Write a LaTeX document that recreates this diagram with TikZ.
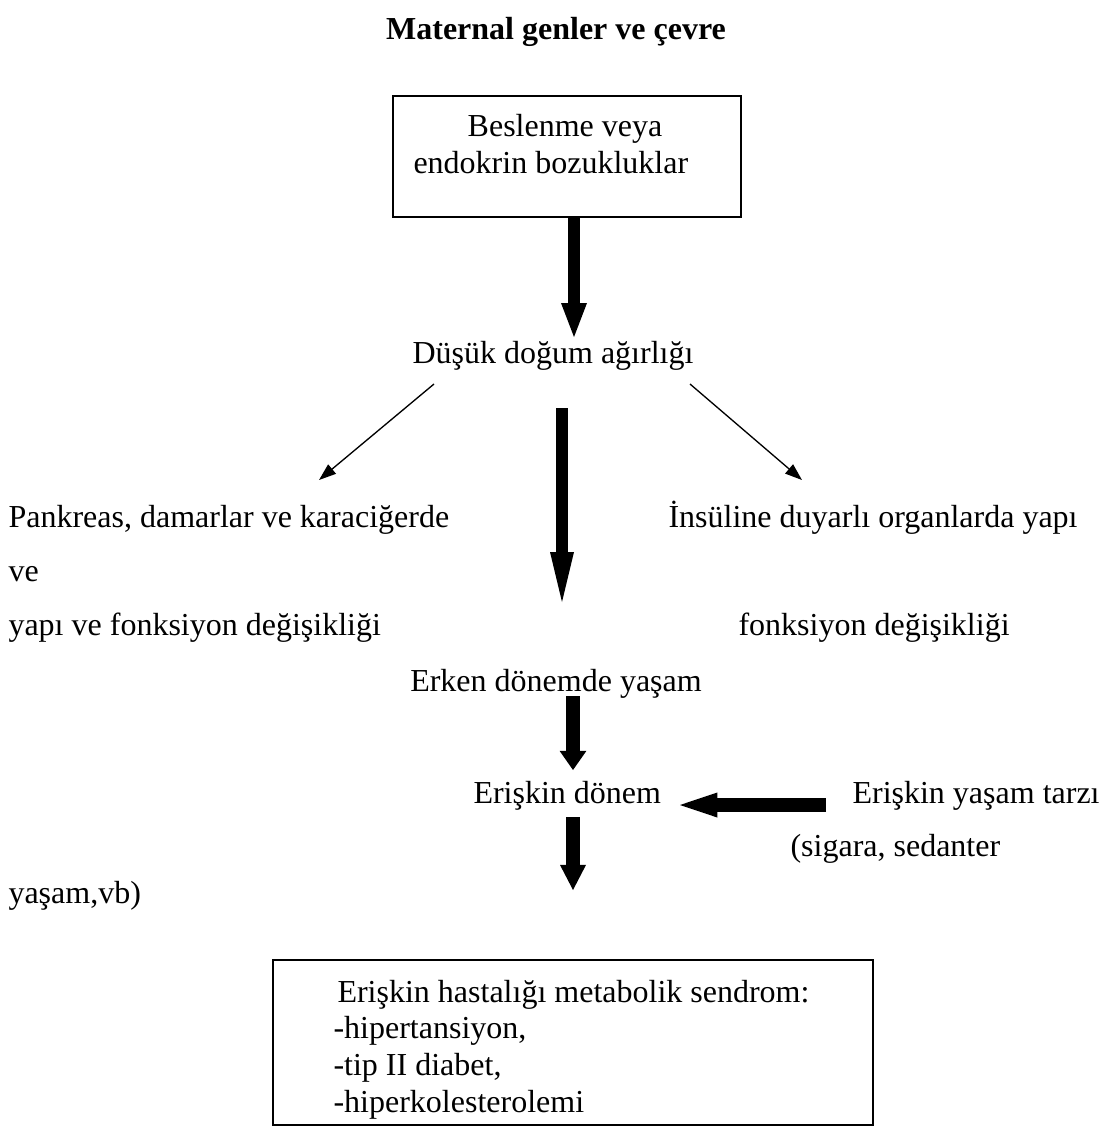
\documentclass[tikz,border=0pt]{standalone}
\usepackage{fontspec}
\setmainfont{Liberation Serif}
\usetikzlibrary{arrows.meta}
\begin{document}
\begin{tikzpicture}[x=0.375pt,y=-0.375pt,
  txt/.style={inner sep=0pt, font=\fontsize{12pt}{14pt}\selectfont},
  boxtxt/.style={txt, anchor=base west},
  frame/.style={draw, line width=0.7pt, inner sep=0pt},
  thinarr/.style={line width=0.5pt, -{Triangle[width=4.5pt, length=6.4pt]}},
  fatarr/.style n args={3}{line width=#1, -{Triangle[width=#2, length=#3, line width=0pt]}},
]
\useasboundingbox (0,0) rectangle (1109,1128);

% title
\node[txt, font=\fontsize{12pt}{14pt}\selectfont\bfseries, anchor=base] (title) at (556,39) {Maternal genler ve çevre};

% top box
\node[frame, minimum width={348.3*0.375pt}, minimum height={120.7*0.375pt}] (box1) at (566.85,156.35) {};
\node[txt, anchor=base] (t1a) at (565,136) {Beslenme veya};
\node[txt, anchor=base west] (t1b) at (413,173) {endokrin bozukluklar};

% texts
\node[txt, anchor=base] (dusuk) at (553,363) {Düşük doğum ağırlığı};
\node[txt, anchor=base west] (pank) at (8,527) {Pankreas, damarlar ve karaciğerde};
\node[txt, anchor=base west] (ve) at (8,581) {ve};
\node[txt, anchor=base west] (yapi) at (8,635) {yapı ve fonksiyon değişikliği};
\node[txt, anchor=base west] (ins) at (668,527) {İnsüline duyarlı organlarda yapı};
\node[txt, anchor=base west] (fonk) at (738,635) {fonksiyon değişikliği};
\node[txt, anchor=base] (erken) at (556,691) {Erken dönemde yaşam};
\node[txt, anchor=base west] (donem) at (473,803) {Erişkin dönem};
\node[txt, anchor=base west] (tarz) at (852,803) {Erişkin yaşam tarzı};
\node[txt, anchor=base west] (sig) at (790,856) {(sigara, sedanter};
\node[txt, anchor=base west] (vb) at (8,903) {yaşam,vb)};

% bottom box
\node[frame, minimum width={600*0.375pt}, minimum height={165*0.375pt}] (box2) at (573,1042.5) {};
\node[boxtxt] (d1) at (337,1002) {Erişkin hastalığı metabolik sendrom:};
\node[boxtxt] (d2) at (333,1038.8) {-hipertansiyon,};
\node[boxtxt] (d3) at (333,1075.6) {-tip II diabet,};
\node[boxtxt] (d4) at (333,1112.4) {-hiperkolesterolemi};

% connector end points
\coordinate (a1) at (574,337);
\coordinate (a2s) at (562,408);
\coordinate (a2e) at (562,602);
\coordinate (a3s) at (573,696);
\coordinate (a3e) at (573,770);
\coordinate (hs) at (826,805);
\coordinate (he) at (680,805);
\coordinate (a4s) at (573,817);
\coordinate (a4e) at (573,890);
\coordinate (l1) at (434,384);
\coordinate (l2) at (319,480);
\coordinate (r1) at (690,384);
\coordinate (r2) at (802,480);

% arrows
\draw[fatarr={4.5pt}{9.75pt}{12.75pt}] (box1.south -| a1) -- (a1);
\draw[fatarr={4.5pt}{9pt}{18.75pt}] (a2s) -- (a2e);
\draw[fatarr={5.6pt}{10.1pt}{7.2pt}] (a3s) -- (a3e);
\draw[fatarr={5.6pt}{9.4pt}{14pt}] (hs) -- (he);
\draw[fatarr={5.6pt}{9.75pt}{9.4pt}] (a4s) -- (a4e);
\draw[thinarr] (l1) -- (l2);
\draw[thinarr] (r1) -- (r2);
\end{tikzpicture}
\end{document}
